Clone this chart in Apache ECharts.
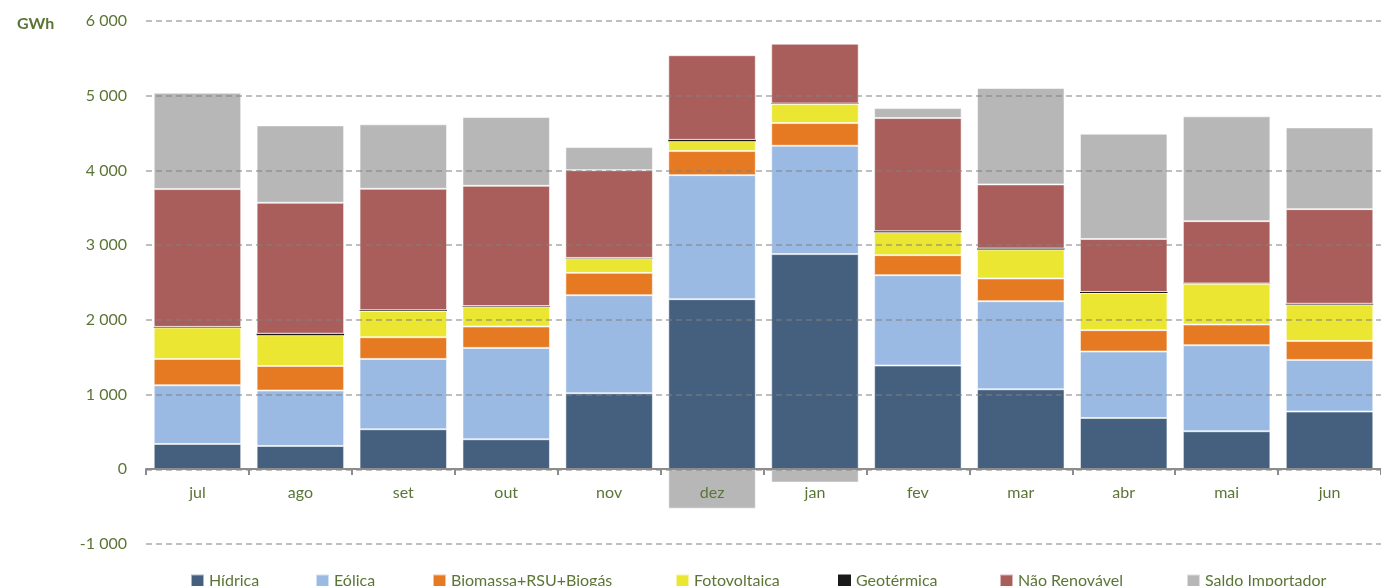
<!DOCTYPE html>
<html>
<head>
<meta charset="utf-8">
<script src="https://cdn.jsdelivr.net/npm/echarts@6/dist/echarts.min.js"></script>
<style>
  html, body { margin: 0; padding: 0; background: #fff; }
  #main { width: 1381px; height: 586px; }
</style>
</head>
<body>
<div id="main"></div>
<script>
// meses
var months = ['jul', 'ago', 'set', 'out', 'nov', 'dez', 'jan', 'fev', 'mar', 'abr', 'mai', 'jun']

// GWh por fonte
var hidrica      = [339, 312, 536, 402, 1018, 2277, 2880, 1389, 1071, 687, 509, 773]
var eolica       = [786, 742, 941, 1223, 1312, 1660, 1450, 1209, 1179, 889, 1152, 691]
var biomassa     = [352, 329, 291, 286, 299, 322, 304, 268, 304, 286, 277, 254]
var fotovoltaica = [421, 412, 352, 268, 195, 132, 254, 308, 387, 499, 544, 488]
var geotermica   = [8, 20, 10, 6, 5, 18, 8, 11, 15, 12, 6, 10]
var naoRenovavel = [1844, 1752, 1624, 1609, 1175, 1133, 800, 1516, 857, 709, 833, 1266]
var saldoImport  = [1290, 1036, 863, 920, 308, -527, -178, 133, 1290, 1410, 1403, 1094]

var yTicks = { min: -1000, max: 6000, step: 1000 }

var seriesNames = ['Hídrica', 'Eólica', 'Biomassa+RSU+Biogás', 'Fotovoltaica', 'Geotérmica', 'Não Renovável', 'Saldo Importador']
var legendLeft = [185, 310, 427, 670, 833, 994, 1181]

var textColor = '#5b7536'
var font = 'Lato'

function fmt(v) {
  var s = String(Math.abs(v)).replace(/\B(?=(\d{3})+(?!\d))/g, ' ')
  return (v < 0 ? '-' : '') + s
}

function serie(name, data, color, noBorder) {
  return {
    name: name,
    type: 'bar',
    stack: 'total',
    barCategoryGap: '15%',
    data: data,
    itemStyle: {
      color: color,
      borderColor: noBorder ? color : 'rgba(255,255,255,0.55)',
      borderWidth: noBorder ? 0 : 1
    },
    emphasis: { disabled: true }
  }
}

var myChart = echarts.init(document.getElementById('main'), null, { renderer: 'canvas' })

var legends = seriesNames.map(function (n, i) {
  return {
    left: legendLeft[i],
    top: 568,
    itemWidth: 13,
    itemHeight: 13,
    icon: 'rect',
    textStyle: { color: textColor, fontFamily: font, fontSize: 16 },
    data: [n]
  }
})

var option = {
  animation: false,
  title: {
    text: 'GWh',
    left: 12,
    top: 11,
    textStyle: { color: textColor, fontFamily: font, fontSize: 16, fontWeight: 'bold' }
  },
  legend: legends,
  grid: {
    left: 146,
    top: 21,
    width: 1240,
    height: 523
  },
  xAxis: {
    type: 'category',
    data: months,
    z: 5,
    offset: -75,
    axisLine: { onZero: false, lineStyle: { color: '#8c8c8c', width: 2 } },
    axisTick: { show: true, length: 6, lineStyle: { color: '#8c8c8c', width: 2 } },
    axisLabel: { color: textColor, fontFamily: font, fontSize: 16, margin: 16 }
  },
  yAxis: {
    type: 'value',
    min: yTicks.min,
    max: yTicks.max,
    interval: yTicks.step,
    z: 4,
    axisLine: { show: false },
    axisTick: { show: false },
    axisLabel: {
      color: textColor,
      fontFamily: font,
      fontSize: 16,
      margin: 19,
      formatter: fmt
    },
    splitLine: {
      lineStyle: { color: 'rgba(128,128,128,0.5)', width: 2, type: [6, 4] }
    }
  },
  series: [
    serie('Hídrica', hidrica, '#45607e'),
    serie('Eólica', eolica, '#9abae3'),
    serie('Biomassa+RSU+Biogás', biomassa, '#e67a22'),
    serie('Fotovoltaica', fotovoltaica, '#ebe631'),
    serie('Geotérmica', geotermica, '#1a1a1a', true),
    serie('Não Renovável', naoRenovavel, '#a95e5c'),
    serie('Saldo Importador', saldoImport, '#b7b7b7')
  ]
}

myChart.setOption(option)
</script>
</body>
</html>
